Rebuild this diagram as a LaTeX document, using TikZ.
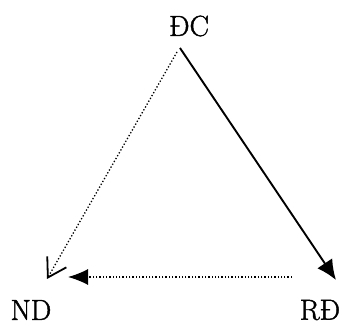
\documentclass[tikz,border=0pt]{standalone}
\usepackage{fontspec}
\newfontfamily\lblfont{Latin Modern Roman}[FakeBold=1.5]
\usetikzlibrary{arrows.meta}
\begin{document}
\begin{tikzpicture}[x=1pt,y=1pt,
  lbl/.style={font=\fontsize{29}{31}\lblfont, inner sep=0pt},
  solidedge/.style={line width=1.9pt, -{Latex[length=20pt,width=18pt]}},
  dotedge/.style={line width=1.3pt, dotted},
  openhead/.style={-{Straight Barb[length=18pt,width=22pt,line width=1.8pt]}},
  fillhead/.style={-{Latex[length=20pt,width=16pt]}}]
\useasboundingbox (0,0) rectangle (342,326);
\node[lbl] (dc) at (189,300) {ĐC};
\node[lbl] (nd) at (31,16) {ND};
\node[lbl] (rd) at (320,16) {RĐ};
\coordinate (dcs1) at (180,278);
\coordinate (dcs2) at (177,274);
\coordinate (rdend) at (336,46);
\coordinate (ndend) at (47,47);
\coordinate (hstart) at (292,49);
\coordinate (hend) at (68,49);
\draw[solidedge] (dcs1) -- (rdend);
\draw[dotedge, openhead] (dcs2) -- (ndend);
\draw[dotedge, fillhead] (hstart) -- (hend);
\end{tikzpicture}
\end{document}
